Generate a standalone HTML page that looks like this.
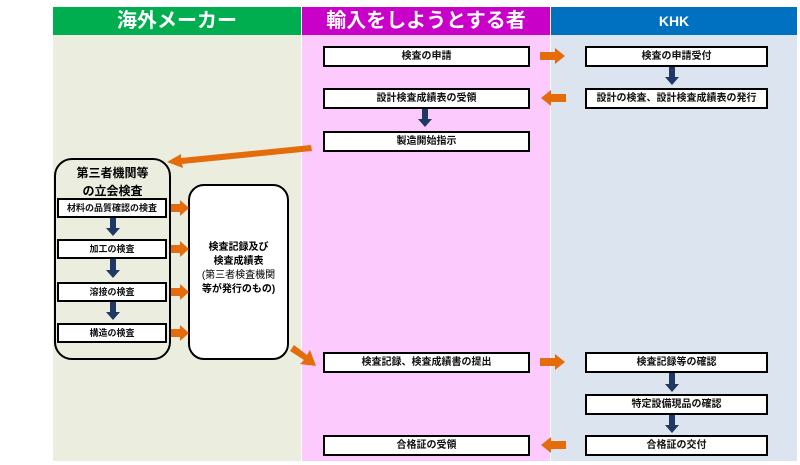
<!DOCTYPE html>
<html><head><meta charset="utf-8"><style>
body{margin:0;width:800px;height:465px;background:#fff;position:relative;overflow:hidden;font-family:"Liberation Sans","Noto Sans CJK JP",sans-serif;}
.a{position:absolute;box-sizing:border-box;}
.hd{color:#fff;text-align:center;font-weight:bold;}
.b{position:absolute;box-sizing:border-box;background:#fff;border:2px solid #000;font-size:10px;font-weight:bold;text-align:center;line-height:17px;color:#111;}
.s{font-size:9px;}
</style></head><body>
<div class="a" style="left:53px;top:35px;width:248px;height:426px;background:#ebeedf"></div>
<div class="a" style="left:302px;top:35px;width:248px;height:426px;background:#fdcafd"></div>
<div class="a" style="left:551px;top:35px;width:246px;height:426px;background:#dbe4ef"></div>
<div class="a hd" style="left:53px;top:7px;width:248px;height:28px;background:#00ad4f;font-size:20px;line-height:28px">海外メーカー</div>
<div class="a hd" style="left:302px;top:7px;width:248px;height:28px;background:#c800c8;font-size:20px;line-height:28px">輸入をしようとする者</div>
<div class="a hd" style="left:551px;top:7px;width:246px;height:28px;background:#0070c0;font-size:14px;line-height:28px">KHK</div>

<div class="b" style="left:323px;top:46px;width:207px;height:21px">検査の申請</div>
<div class="b" style="left:323px;top:88px;width:207px;height:21px">設計検査成績表の受領</div>
<div class="b" style="left:323px;top:131px;width:207px;height:21px">製造開始指示</div>
<div class="b" style="left:323px;top:352px;width:207px;height:21px">検査記録、検査成績書の提出</div>
<div class="b" style="left:323px;top:435px;width:207px;height:21px">合格証の受領</div>

<div class="b" style="left:585px;top:46px;width:183px;height:21px">検査の申請受付</div>
<div class="b" style="left:585px;top:88px;width:183px;height:21px">設計の検査、設計検査成績表の発行</div>
<div class="b" style="left:585px;top:352px;width:183px;height:21px">検査記録等の確認</div>
<div class="b" style="left:585px;top:394px;width:183px;height:21px">特定設備現品の確認</div>
<div class="b" style="left:585px;top:435px;width:183px;height:21px">合格証の交付</div>

<div class="a" style="left:54px;top:158px;width:117px;height:202px;border:2px solid #000;border-radius:18px;background:#ebeedf;text-align:center;font-size:12px;font-weight:bold;line-height:18px;padding-top:4px">第三者機関等<br>の立会検査</div>
<div class="b s" style="left:57px;top:198px;width:110px;height:20px">材料の品質確認の検査</div>
<div class="b s" style="left:57px;top:239px;width:110px;height:20px">加工の検査</div>
<div class="b s" style="left:57px;top:282px;width:110px;height:20px">溶接の検査</div>
<div class="b s" style="left:57px;top:323px;width:110px;height:20px">構造の検査</div>
<div class="a" style="left:188px;top:184px;width:101px;height:176px;border:2px solid #000;border-radius:16px;background:#fff;text-align:center;font-size:10px;font-weight:bold;line-height:14px;padding-top:55px">検査記録及び<br>検査成績表<br><span style="font-weight:normal">(第三者検査機関</span><br>等が発行のもの)</div>

<svg class="a" style="left:0;top:0" width="800" height="465">
<g fill="#e46c0a">
<polygon points="540,52 555,52 555,48 565,56 555,64 555,60 540,60"/>
<polygon points="566,94 551,94 551,90 541,98 551,106 551,102 566,102"/>
<polygon points="540,358 555,358 555,354 565,362 555,370 555,366 540,366"/>
<polygon points="566,441 551,441 551,437 541,445 551,453 551,449 566,449"/>
<polygon points="171,204 180,204 180,200 189,208 180,216 180,212 171,212"/>
<polygon points="171,245 180,245 180,241 189,249 180,257 180,253 171,253"/>
<polygon points="171,288 180,288 180,284 189,292 180,300 180,296 171,296"/>
<polygon points="171,329 180,329 180,325 189,333 180,341 180,337 171,337"/>
<polygon points="311,145 181,158 181,154 167,162 183,168 182,164 312,151"/>
<polygon points="294,345 307,355 310,350 316,366 300,364 304,360 290,351"/>
</g>
<g fill="#1f3864">
<polygon points="669,67 675,67 675,77 679,77 672,85 665,77 669,77"/>
<polygon points="669,373 675,373 675,384 679,384 672,392 665,384 669,384"/>
<polygon points="669,415 675,415 675,425 679,425 672,433 665,425 669,425"/>
<polygon points="422,109 428,109 428,119 432,119 425,127 418,119 422,119"/>
<polygon points="110,218 116,218 116,228 120,228 113,236 106,228 110,228"/>
<polygon points="110,259 116,259 116,270 120,270 113,278 106,270 110,270"/>
<polygon points="110,302 116,302 116,312 120,312 113,320 106,312 110,312"/>
</g>
</svg>
</body></html>
